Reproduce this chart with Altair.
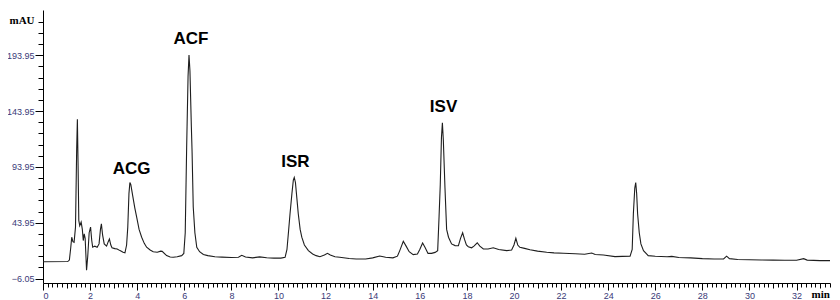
import altair as alt
import pandas as pd

# Chromatogram trace: retention time (min) and absorbance (mAU)
time_min = [
    0.0, 1.05, 1.12, 1.18, 1.22, 1.27, 1.32, 1.38, 1.43, 1.46, 1.49, 1.52, 1.56, 1.62, 1.67,
    1.71, 1.75, 1.79, 1.85, 1.9, 1.96, 2.02, 2.07, 2.11, 2.2, 2.3, 2.38, 2.44, 2.48, 2.53,
    2.6, 2.7, 2.77, 2.82, 2.88, 2.93, 3.05, 3.15, 3.27, 3.4, 3.48, 3.55, 3.6, 3.65, 3.69,
    3.73, 3.81, 3.9, 3.98, 4.08, 4.19, 4.3, 4.4, 4.55, 4.68, 4.85, 5.0, 5.06, 5.25, 5.4,
    5.53, 5.7, 5.89, 5.98, 6.04, 6.1, 6.16, 6.2, 6.24, 6.3, 6.33, 6.38, 6.45, 6.53, 6.65,
    6.81, 7.0, 7.3, 7.6, 8.0, 8.3, 8.44, 8.6, 8.9, 9.2, 9.5, 9.8, 10.1, 10.28, 10.36,
    10.43, 10.49, 10.57, 10.63, 10.67, 10.72, 10.78, 10.84, 10.92, 10.99, 11.1, 11.27, 11.45, 11.6, 11.76,
    11.95, 12.08, 12.2, 12.4, 12.6, 13.0, 13.3, 13.7, 14.0, 14.3, 14.55, 14.86, 15.05, 15.15, 15.3,
    15.42, 15.55, 15.72, 15.9, 16.0, 16.12, 16.22, 16.35, 16.5, 16.65, 16.76, 16.82, 16.87, 16.92, 16.96,
    17.0, 17.07, 17.14, 17.22, 17.35, 17.5, 17.64, 17.73, 17.82, 17.9, 17.98, 18.06, 18.2, 18.3, 18.44,
    18.55, 18.7, 18.9, 19.12, 19.35, 19.69, 19.9, 20.0, 20.08, 20.16, 20.25, 20.45, 20.68, 21.0, 21.39,
    21.7, 22.1, 22.6, 23.0, 23.3, 23.45, 23.8, 24.29, 24.6, 24.93, 25.02, 25.07, 25.13, 25.17, 25.21,
    25.25, 25.32, 25.39, 25.5, 25.7, 26.0, 26.5, 26.7, 27.0, 27.5, 28.0, 28.5, 28.9, 29.03, 29.15,
    29.5, 30.0, 30.5, 31.0, 31.5, 32.0, 32.3, 32.45, 33.0, 33.42,
]
mau = [
    9.0, 9.2, 10.5, 22, 31, 27, 26.4, 40, 110, 136.5, 95, 46, 41.3, 44.5, 38,
    28, 34, 30, 1.5, 14, 35, 40, 28, 22, 23, 22, 25, 38, 43, 33,
    25, 23, 27, 29.4, 24, 21.5, 20.8, 20.5, 19, 17.5, 17, 24, 40, 70, 80,
    78, 68, 57, 48.7, 38, 31, 25.5, 22, 19.5, 18, 17.5, 18.5, 18.3, 14.5, 13.3,
    13, 13.5, 14.5, 16.5, 35, 111, 175, 194, 180, 130, 108, 58, 35, 22, 18,
    15.5, 14.5, 13.5, 13.2, 12.8, 13, 14.8, 13.2, 12.5, 13.4, 12.6, 12.3, 12.3, 13, 20,
    37, 52, 70, 82, 84.5, 80, 66, 52, 38, 31, 24, 19, 16, 14.5, 13.5,
    15, 16.6, 15, 13.5, 13, 12, 11.5, 11.5, 12.5, 14.2, 13, 12.5, 14, 19, 27.3,
    23, 18, 15.4, 16, 20, 25.8, 22, 16.5, 16.5, 17.4, 19, 50, 78, 120, 133.5,
    118, 75, 38, 31, 25, 23.5, 23.4, 30, 35, 29, 24, 22.5, 21.5, 23, 26,
    23, 20.5, 20.5, 21.5, 20, 19, 19.5, 24, 30, 24, 22, 21, 19.7, 18.5, 17.5,
    17, 16.6, 16.2, 15.8, 16.8, 15.5, 15, 13.6, 13.8, 14, 20, 52, 75, 80, 70,
    52, 35, 25, 19, 14.5, 14, 13.5, 13.8, 12.8, 12.5, 11.8, 11.5, 11.5, 14, 11.8,
    11, 10.8, 10.6, 10.5, 10.3, 10.3, 11.8, 10.5, 10, 10,
]

peak_names = ["ACG", "ACF", "ISR", "ISV"]
peak_t = [3.76, 6.28, 10.72, 17.01]
peak_v = [92.2, 208.6, 98.5, 147.6]

x_ticks = [round(i * 0.2, 1) for i in range(0, 168)]
y_ticks = [round(-6.05 + 10 * k, 2) for k in range(0, 24)]

trace = pd.DataFrame({"t": time_min, "v": mau})
labels = pd.DataFrame({"name": peak_names, "t": peak_t, "v": peak_v})

LABEL_COLOR = "#3a3a78"
x_scale = alt.Scale(domain=[0, 33.42], nice=False, zero=False)
y_scale = alt.Scale(domain=[-10, 234.4], nice=False, zero=False)

even_test = "abs(datum.value - 2*round(datum.value/2)) < 0.01"
int_test = "abs(datum.value - round(datum.value)) < 0.01"
y_major_test = "abs((datum.value + 6.05)/50 - round((datum.value + 6.05)/50)) < 0.01"

x_axis = alt.Axis(
    orient="bottom",
    values=x_ticks,
    tickCount=1000,
    labelExpr=f"{even_test} ? format(datum.value, 'd') : ''",
    labelOverlap=False,
    labelFont="Liberation Sans",
    labelFontSize=9,
    labelColor=LABEL_COLOR,
    labelPadding=1,
    tickSize={"condition": [{"test": even_test, "value": 7}, {"test": int_test, "value": 5}], "value": 4},
    tickColor="black",
    domainColor="black",
    grid=False,
    title="min",
    titleX=768,
    titleY=11,
    titleAlign="left",
    titleBaseline="middle",
    titleFont="Liberation Serif",
    titleFontWeight="bold",
    titleFontSize=11,
    titleColor="black",
)
y_axis = alt.Axis(
    orient="left",
    values=y_ticks,
    tickCount=1000,
    labelExpr=f"{y_major_test} ? format(datum.value, '.2f') : ''",
    labelOverlap=False,
    labelFont="Liberation Sans",
    labelFontSize=9,
    labelColor=LABEL_COLOR,
    labelPadding=1,
    tickSize={"condition": {"test": y_major_test, "value": 8}, "value": 5},
    tickColor="black",
    domainColor="black",
    grid=False,
    title="mAU",
    titleAngle=0,
    titleX=-34,
    titleY=10,
    titleAlign="left",
    titleBaseline="middle",
    titleFont="Liberation Serif",
    titleFontWeight="bold",
    titleFontSize=11,
    titleColor="black",
)

line = alt.Chart(trace).mark_line(color="#1e1e1e", strokeWidth=1.1).encode(
    x=alt.X("t:Q", scale=x_scale, axis=x_axis),
    y=alt.Y("v:Q", scale=y_scale, axis=y_axis),
)

text = alt.Chart(labels).mark_text(
    font="Liberation Sans", fontWeight="bold", fontSize=17, color="black", baseline="middle"
).encode(
    x=alt.X("t:Q", scale=x_scale),
    y=alt.Y("v:Q", scale=y_scale),
    text="name:N",
)

chart = alt.layer(line, text).properties(
    width=787,
    height=273,
    autosize=alt.AutoSizeParams(type="none"),
    padding={"left": 35, "top": 2, "right": 2, "bottom": 17},
    background="white",
).configure_view(stroke=None)

chart.save("out.html", embed_options={"renderer": "svg", "actions": False})
